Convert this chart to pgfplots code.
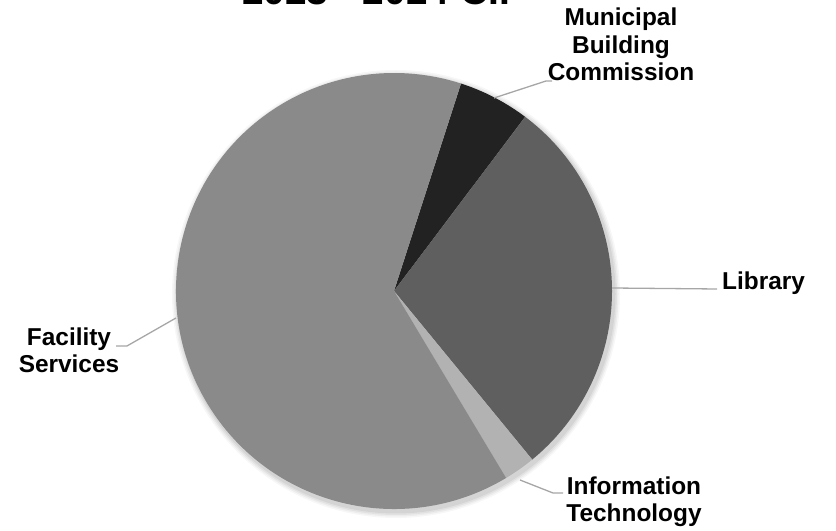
\documentclass[border=0pt]{standalone}
\usepackage{fontspec}
\setmainfont{Liberation Sans}
\usepackage{pgfplots}
\pgfplotsset{compat=1.18}
\definecolor{cM}{HTML}{222222}
\definecolor{cL}{HTML}{5F5F5F}
\definecolor{cI}{HTML}{B2B2B2}
\definecolor{cF}{HTML}{8A8A8A}
\definecolor{cLine}{HTML}{A6A6A6}
% slice values (percent of total)
\def\vM{5.3}   % Municipal Building Commission
\def\vL{28.8}  % Library
\def\vI{2.33}  % Information Technology
\def\vF{63.57} % Facility Services
\pgfmathsetmacro\aA{72.1}
\pgfmathsetmacro\aB{\aA-3.6*\vM}
\pgfmathsetmacro\aC{\aB-3.6*\vL}
\pgfmathsetmacro\aD{\aC-3.6*\vI}
\pgfmathsetmacro\aE{\aD-3.6*\vF}
\begin{document}
\begin{tikzpicture}
\begin{axis}[x=1bp,y=1bp,xmin=0,xmax=836,ymin=0,ymax=531,hide axis,clip=false,
  scale only axis]
\coordinate (bl) at (axis cs:0,0);
\coordinate (tr) at (axis cs:836,531);
% soft shadow
\fill[black,opacity=0.03] (axis cs:396,237) circle[radius=224bp];
\fill[black,opacity=0.04] (axis cs:396,237) circle[radius=222.5bp];
\fill[black,opacity=0.05] (axis cs:396,237) circle[radius=221bp];
\fill[black,opacity=0.06] (axis cs:396,237) circle[radius=219.5bp];
\fill[cM] (axis cs:394,240) -- +(\aA:218bp) arc[start angle=\aA, end angle=\aB, radius=218bp] -- cycle;
\fill[cL] (axis cs:394,240) -- +(\aB:218bp) arc[start angle=\aB, end angle=\aC, radius=218bp] -- cycle;
\fill[cI] (axis cs:394,240) -- +(\aC:218bp) arc[start angle=\aC, end angle=\aD, radius=218bp] -- cycle;
\fill[cF] (axis cs:394,240) -- +(\aD:218bp) arc[start angle=\aD, end angle=\aE, radius=218bp] -- cycle;
% leader lines
\draw[cLine,line width=1.3bp] (axis cs:494,433) -- (axis cs:546,450) -- (axis cs:552,450);
\draw[cLine,line width=1.3bp] (axis cs:612,243) -- (axis cs:717,242);
\draw[cLine,line width=1.3bp] (axis cs:176,213) -- (axis cs:127,185) -- (axis cs:116,185);
\draw[cLine,line width=1.3bp] (axis cs:520,51) -- (axis cs:553,38) -- (axis cs:563,38);
% labels
\tikzset{lab/.style={font=\fontsize{24.5}{28}\selectfont\bfseries,align=center,inner sep=0pt}}
\node[lab,anchor=base] at (axis cs:621,450) {Municipal\\Building\\Commission};
\node[lab,anchor=base west] at (axis cs:722,241) {Library};
\node[lab,anchor=base] at (axis cs:69,158) {Facility\\Services};
\node[lab,anchor=base] at (axis cs:634,9) {Information\\Technology};
\node[font=\fontsize{39}{44}\selectfont\bfseries,anchor=base,inner sep=0pt] at (axis cs:383.5,526) {2023 - 2024 CIP};
\end{axis}
\pgfresetboundingbox
\useasboundingbox (bl) rectangle (tr);
\end{tikzpicture}
\end{document}
